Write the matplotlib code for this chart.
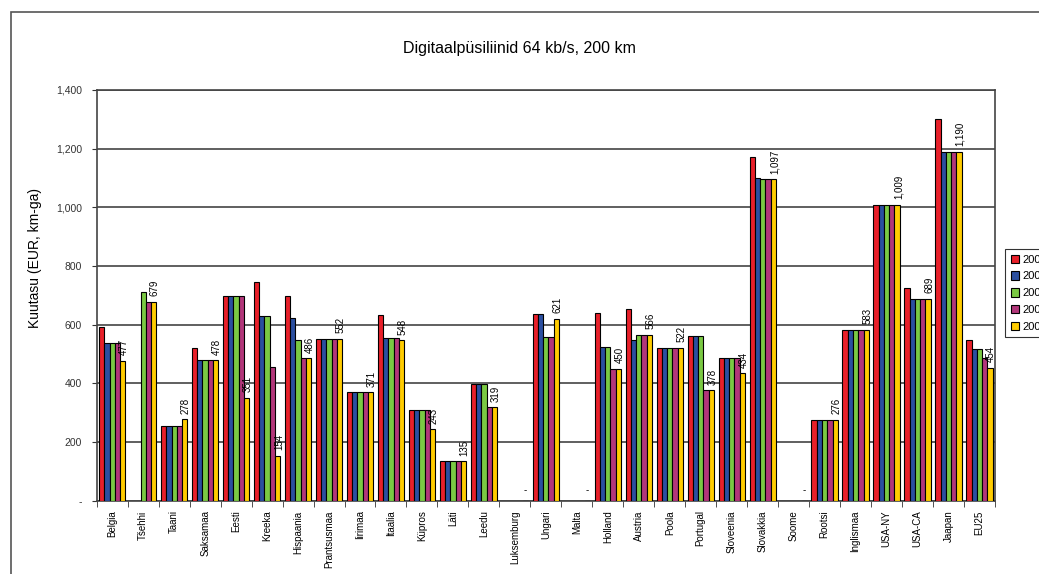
import numpy as np
import matplotlib
matplotlib.use("Agg")
import matplotlib.pyplot as plt
from matplotlib.patches import Rectangle
from matplotlib.ticker import FuncFormatter, FixedLocator

plt.rcParams["font.family"] = ["Liberation Sans", "DejaVu Sans"]

# ---------------------------------------------------------------------------
# data
# ---------------------------------------------------------------------------
countries = ["Belgia", "Tšehhi", "Taani", "Saksamaa", "Eesti", "Kreeka",
             "Hispaania", "Prantsusmaa", "Iirimaa", "Itaalia", "Küpros", "Läti",
             "Leedu", "Luksemburg", "Ungari", "Malta", "Holland", "Austria",
             "Poola", "Portugal", "Sloveenia", "Slovakkia", "Soome", "Rootsi",
             "Inglismaa", "USA-NY", "USA-CA", "Jaapan", "EU25"]

years = ["2002", "2003", "2004", "2005", "2006"]
nan = np.nan

y2002 = [592, nan, 255, 522, 699, 744, 699, 552, 371, 632, 310, 135, 399, nan,
         636, nan, 640, 655, 522, 560, 485, 1172, nan, 276, 583, 1009, 724, 1301, 548]
y2003 = [537, nan, 255, 478, 699, 631, 623, 552, 371, 555, 310, 135, 399, nan,
         636, nan, 525, 548, 522, 560, 485, 1100, nan, 276, 583, 1009, 689, 1190, 516]
y2004 = [537, 710, 255, 478, 699, 631, 548, 552, 371, 555, 310, 135, 399, nan,
         557, nan, 525, 566, 522, 560, 485, 1097, nan, 276, 583, 1009, 689, 1190, 516]
y2005 = [537, 679, 255, 478, 699, 457, 486, 552, 371, 555, 310, 135, 319, nan,
         557, nan, 450, 566, 522, 378, 485, 1097, nan, 276, 583, 1009, 689, 1190, 487]
y2006 = [477, 679, 278, 478, 351, 154, 486, 552, 371, 548, 243, 135, 319, 0,
         621, 0, 450, 566, 522, 378, 434, 1097, 0, 276, 583, 1009, 689, 1190, 454]

series = [y2002, y2003, y2004, y2005, y2006]
colors = ["#E8202A", "#2B4FA0", "#7AC943", "#B2367A", "#FFCC00"]


def fmt_num(v, pos=None):
    return "-" if v == 0 else f"{v:,.0f}"


# ---------------------------------------------------------------------------
# figure
# ---------------------------------------------------------------------------
W, H = 1039, 574
fig = plt.figure(figsize=(W / 100, H / 100), dpi=100)
fig.patch.set_facecolor("white")

# outer chart frame (clipped at right and bottom in the reference)
fig.patches.append(Rectangle((11 / W, -0.05), 1.1, 1 - 12 / H + 0.05,
                             transform=fig.transFigure, fill=False,
                             edgecolor="#555555", linewidth=1.2))

ax = fig.add_axes([96.7 / W, 1 - 500.7 / H, (995 - 96.7) / W, (500.7 - 90) / H])

x = np.arange(len(countries))
bw = 0.17
for i, (vals, col, yr) in enumerate(zip(series, colors, years)):
    ax.bar(x + (i - 2) * bw, vals, width=bw, color=col, edgecolor="black",
           linewidth=0.8, label=yr, zorder=3)

# labels on the last series only
for xi, v in zip(x, y2006):
    if v == 0:
        ax.text(xi + 2 * bw, 18, "-", ha="center", va="bottom", fontsize=7)
    else:
        ax.text(xi + 2 * bw + 0.04, v + 18, fmt_num(v), rotation=90,
                ha="center", va="bottom", fontsize=7)

ax.set_xlim(-0.5, len(countries) - 0.5)
ax.set_ylim(0, 1400)
ax.set_yticks(np.arange(0, 1401, 200))
ax.yaxis.set_major_formatter(FuncFormatter(fmt_num))
ax.yaxis.grid(True, color="#444444", linewidth=1.2, zorder=0)
ax.tick_params(axis="y", direction="out", length=3.6, labelsize=7.5,
               colors="#333333", pad=7)

ax.set_xticks(x)
ax.set_xticklabels(countries, rotation=90, fontsize=7, va="top")
ax.tick_params(axis="x", which="major", length=0, pad=7)
ax.xaxis.set_minor_locator(FixedLocator(np.arange(-0.5, len(countries), 1)))
ax.tick_params(axis="x", which="minor", direction="out", length=4, color="#333333")

for s in ax.spines.values():
    s.set_color("#444444")
    s.set_linewidth(1.2)

fig.text(35 / W, 1 - 258 / H, "Kuutasu (EUR, km-ga)", rotation=90,
         ha="center", va="center", fontsize=10)
fig.text(0.5, 1 - 48 / H, "Digitaalpüsiliinid 64 kb/s, 200 km",
         ha="center", va="center", fontsize=11.5)

leg = fig.legend(loc="upper left", bbox_to_anchor=(1005 / W, 1 - 249 / H),
                 fontsize=8, frameon=True, fancybox=False, edgecolor="black",
                 handlelength=0.8, handleheight=0.8, handletextpad=0.3,
                 labelspacing=0.6, borderpad=0.5, borderaxespad=0)
leg.get_frame().set_linewidth(0.8)

fig.savefig("out.png", dpi=100)
